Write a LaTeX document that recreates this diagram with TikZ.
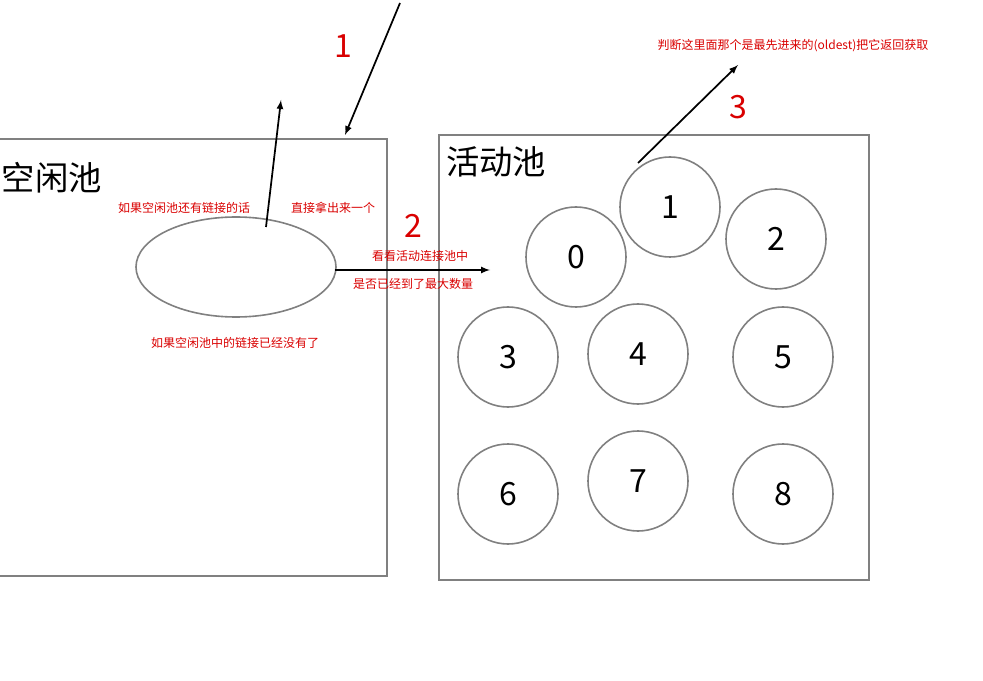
\documentclass[tikz,border=0pt]{standalone}
\usepackage{fontspec}
\setmainfont{Noto Sans CJK SC}
\usetikzlibrary{shapes.geometric}
\begin{document}
\begin{tikzpicture}[x=0.75pt,y=-0.75pt,
  box/.style={draw=black!50,line width=1.2pt},
  pool/.style={draw=black!50,line width=1.2pt,circle,minimum size=75pt,inner sep=0pt,font=\fontsize{24}{26}\selectfont},
  arr/.style={-latex,line width=1.3pt},
  note/.style={text=red!85!black,font=\fontsize{9}{11}\selectfont,inner sep=0pt},
  num/.style={text=red!85!black,font=\fontsize{24}{26}\selectfont,inner sep=0pt},
  title/.style={font=\fontsize{25}{28}\selectfont,inner sep=0pt}]
\useasboundingbox (0,0) rectangle (983,681);
\draw[box] (-5,139) rectangle (387,576);
\draw[box] (439,135) rectangle (869,580);
\node[title] (t1) at (52,178) {空闲池};
\node[title] (t2) at (496,162) {活动池};
\node[draw=black!50,line width=1.2pt,ellipse,minimum width=150pt,minimum height=75pt,inner sep=0pt] (e) at (236,267) {};
\node[pool] (c0) at (576,257) {0};
\node[pool] (c1) at (670,207) {1};
\node[pool] (c2) at (776,239) {2};
\node[pool] (c3) at (508,357) {3};
\node[pool] (c4) at (638,354) {4};
\node[pool] (c5) at (783,357) {5};
\node[pool] (c6) at (508,494) {6};
\node[pool] (c7) at (638,481) {7};
\node[pool] (c8) at (783,494) {8};
\coordinate (a1s) at (400,3); \coordinate (a1e) at (345,135);
\draw[arr] (a1s) -- (a1e);
\coordinate (a2s) at (266,227); \coordinate (a2e) at (281,100);
\draw[arr] (a2s) -- (a2e);
\coordinate (a3s) at (335,270); \coordinate (a3e) at (490,270);
\draw[arr] (a3s) -- (a3e);
\coordinate (a4s) at (638,163); \coordinate (a4e) at (738,65);
\draw[arr] (a4s) -- (a4e);
\node[num] (n1) at (343,46) {1};
\node[num] (n2) at (413,226) {2};
\node[num] (n3) at (738,107) {3};
\node[note] (l1) at (184,208) {如果空闲池还有链接的话};
\node[note] (l2) at (333,208) {直接拿出来一个};
\node[note] (l3) at (420,256) {看看活动连接池中};
\node[note] (l4) at (413,284) {是否已经到了最大数量};
\node[note] (l5) at (235,343) {如果空闲池中的链接已经没有了};
\node[note] (l6) at (793,46) {判断这里面那个是最先进来的(oldest)把它返回获取};
\end{tikzpicture}
\end{document}
